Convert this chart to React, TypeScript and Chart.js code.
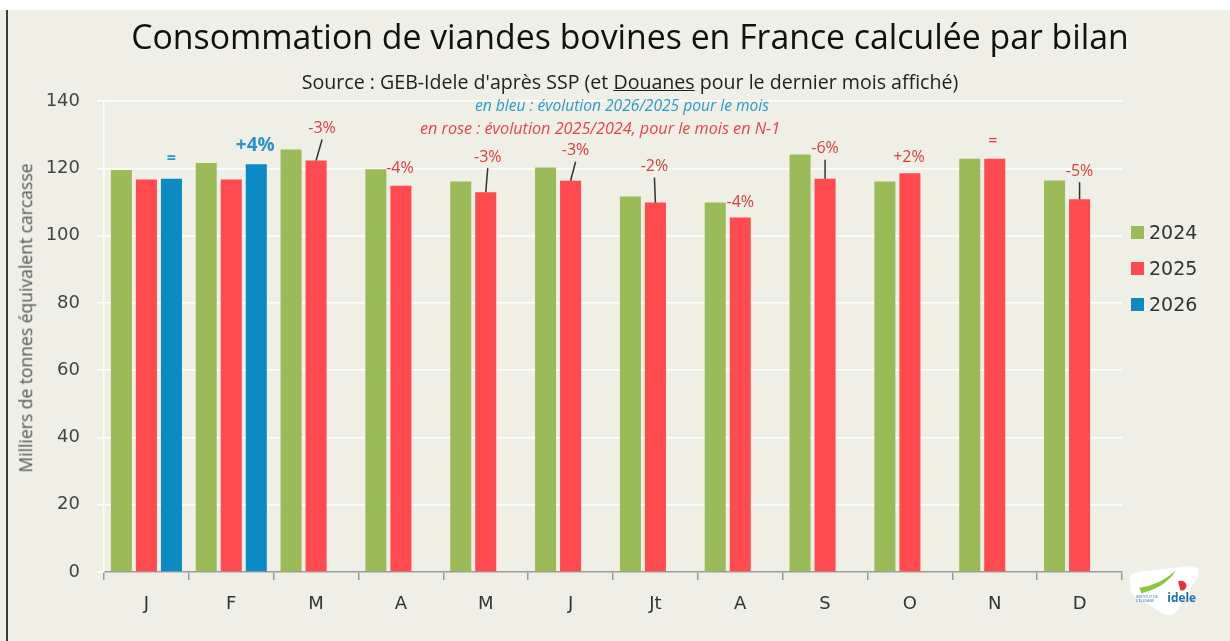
import React, { useEffect, useRef } from "react";
import { Chart, registerables } from "chart.js";

Chart.register(...registerables);

// ---------- data ----------
const months = ["J", "F", "M", "A", "M", "J", "Jt", "A", "S", "O", "N", "D"];
const seriesNames = ["2024", "2025", "2026"];
const values2024 = [119.5, 121.6, 125.6, 119.7, 116.1, 120.2, 111.6, 109.8, 124.1, 116.1, 122.8, 116.4];
const values2025 = [116.7, 116.7, 122.3, 114.8, 112.9, 116.3, 109.8, 105.4, 116.9, 118.5, 122.8, 110.8];
const values2026 = [116.9, 121.2, null, null, null, null, null, null, null, null, null, null];
const yMin = 0;
const yMax = 140;
const yStep = 20;
const changeLabels = ["=", "+4%", "-3%", "-4%", "-3%", "-3%", "-2%", "-4%", "-6%", "+2%", "=", "-5%"];
const changeSeries = [2, 2, 1, 1, 1, 1, 1, 1, 1, 1, 1, 1];

// ---------- styles ----------
const seriesColors = ["#9bbb59", "#ff4a50", "#0b8ac3"];
const bg = "#efefe6";
const labelLayout = [
  { dx: 0, rise: 20, leader: false, size: 16 },
  { dx: -1, rise: 19, leader: false, size: 19 },
  { dx: 6, rise: 32, leader: true, size: 16 },
  { dx: -1, rise: 17, leader: false, size: 16 },
  { dx: 2, rise: 35, leader: true, size: 16 },
  { dx: 5, rise: 30, leader: true, size: 16 },
  { dx: -1, rise: 36, leader: true, size: 16 },
  { dx: 0, rise: 15, leader: false, size: 16 },
  { dx: 0, rise: 30, leader: true, size: 16 },
  { dx: -1, rise: 16, leader: false, size: 16 },
  { dx: -2, rise: 17, leader: false, size: 16 },
  { dx: 0, rise: 28, leader: true, size: 16 },
];

const changePlugin = {
  id: "changeLabels",
  afterDatasetsDraw(chart: any) {
    const ctx = chart.ctx;
    changeLabels.forEach((txt, i) => {
      const ds = changeSeries[i];
      const el = chart.getDatasetMeta(ds).data[i];
      if (!el) return;
      const lay = labelLayout[i];
      const x = el.x + lay.dx;
      const y = el.y - lay.rise;
      const blue = ds === 2;
      ctx.save();
      ctx.font = `${blue ? "700" : "500"} ${lay.size}px "Open Sans"`;
      ctx.fillStyle = blue ? "#2a93c9" : "#d4403f";
      ctx.textAlign = "center";
      ctx.textBaseline = "middle";
      ctx.fillText(txt, x, y);
      if (lay.leader) {
        ctx.strokeStyle = "#333";
        ctx.lineWidth = 1.5;
        ctx.beginPath();
        ctx.moveTo(x, y + 11);
        ctx.lineTo(el.x, el.y);
        ctx.stroke();
      }
      ctx.restore();
    });
  },
};

export default function App() {
  const ref = useRef<HTMLCanvasElement | null>(null);

  useEffect(() => {
    document.body.style.margin = "0";
    const canvas = ref.current;
    if (!canvas) return;
    const chart = new Chart(canvas, {
      type: "bar",
      data: {
        labels: months,
        datasets: [values2024, values2025, values2026].map((v, i) => ({
          label: seriesNames[i],
          data: v,
          backgroundColor: seriesColors[i],
          borderWidth: 0,
          barPercentage: 0.84,
          categoryPercentage: 0.885,
        })),
      },
      options: {
        responsive: false,
        animation: false,
        layout: { padding: { top: 101, right: 108, bottom: 0, left: 0 } },
        plugins: {
          legend: { display: false },
          title: { display: false },
          tooltip: { enabled: false },
        },
        scales: {
          x: {
            afterFit: (s: any) => {
              s.height = 69;
            },
            grid: {
              drawOnChartArea: false,
              drawTicks: true,
              tickLength: 8,
              color: "#9a9a9a",
              lineWidth: 1.5,
            },
            border: { color: "#9a9a9a", width: 1.5 },
            ticks: {
              color: "#333",
              padding: 14,
              font: { family: "DejaVu Sans", size: 18 },
            },
          },
          y: {
            min: yMin,
            max: yMax,
            afterFit: (s: any) => {
              s.width = 104;
            },
            ticks: {
              stepSize: yStep,
              color: "#444",
              padding: 17,
              font: { family: "DejaVu Sans", size: 18 },
            },
            grid: { color: "#ffffff", lineWidth: 1.5, tickLength: 7 },
            border: { color: "#ffffff", width: 1.5 },
          },
        },
      },
      plugins: [changePlugin],
    });
    return () => chart.destroy();
  }, []);

  const abs: React.CSSProperties = { position: "absolute", whiteSpace: "nowrap", lineHeight: 1 };

  return (
    <div
      style={{
        position: "relative",
        width: 1230,
        height: 641,
        background: bg,
        overflow: "hidden",
        fontFamily: '"Open Sans", sans-serif',
      }}
    >
      <div style={{ position: "absolute", left: 0, top: 0, width: 1230, height: 10, background: "#fff" }} />
      <div style={{ position: "absolute", left: 6, top: 10, width: 2, height: 631, background: "#3c3c3c" }} />
      <canvas ref={ref} width={1230} height={641} style={{ position: "absolute", left: 0, top: 0 }} />

      <div style={{ ...abs, left: 630, top: 20, transform: "translateX(-50%)", fontSize: 33.8, color: "#111" }}>
        Consommation de viandes bovines en France calculée par bilan
      </div>
      <div style={{ ...abs, left: 630, top: 72, transform: "translateX(-50%)", fontSize: 19.6, color: "#222" }}>
        Source : GEB-Idele d'après SSP (et <span style={{ textDecoration: "underline" }}>Douanes</span> pour le dernier mois affiché)
      </div>
      <div
        style={{
          ...abs,
          left: 622,
          top: 98,
          transform: "translateX(-50%)",
          fontSize: 15.6,
          fontStyle: "italic",
          color: "#2b9cc9",
        }}
      >
        en bleu : évolution 2026/2025 pour le mois
      </div>
      <div
        style={{
          ...abs,
          left: 600,
          top: 120,
          transform: "translateX(-50%)",
          fontSize: 16.2,
          fontStyle: "italic",
          color: "#e0474c",
        }}
      >
        en rose : évolution 2025/2024, pour le mois en N-1
      </div>

      <div
        style={{
          ...abs,
          left: 26,
          top: 318,
          transform: "translate(-50%, -50%) rotate(-90deg)",
          fontSize: 17.5,
          color: "#555",
        }}
      >
        Milliers de tonnes équivalent carcasse
      </div>

      {seriesNames.map((name, i) => (
        <div key={name} style={{ ...abs, left: 1131, top: 232 + i * 36 - 11, height: 22, display: "flex", alignItems: "center" }}>
          <span style={{ display: "inline-block", width: 13, height: 13, background: seriesColors[i], marginRight: 5 }} />
          <span style={{ fontSize: 19, color: "#333", fontFamily: "DejaVu Sans" }}>{name}</span>
        </div>
      ))}

      <svg style={{ position: "absolute", left: 1122, top: 562 }} width={82} height={56} viewBox="0 0 76 52">
        <path d="M8 20 Q4 10 16 9 L62 4 Q74 3 70 14 L52 44 Q46 52 38 48 L12 32 Q6 28 8 20 Z" fill="#ffffff" />
        <path d="M16 24 Q34 22 50 8 Q40 24 18 29 Z" fill="#8cc63f" />
        <path d="M52 18 Q58 16 60 22 Q58 28 54 26 Z" fill="#e2353a" />
        <text x="42" y="37" fontSize="11" fontWeight="700" fill="#1d6fb8" fontFamily="Open Sans">idele</text>
        <text x="13" y="33" fontSize="3.5" fill="#1d6fb8" fontFamily="Open Sans">INSTITUT DE</text>
        <text x="13" y="37" fontSize="3.5" fill="#1d6fb8" fontFamily="Open Sans">L'ÉLEVAGE</text>
      </svg>
    </div>
  );
}
